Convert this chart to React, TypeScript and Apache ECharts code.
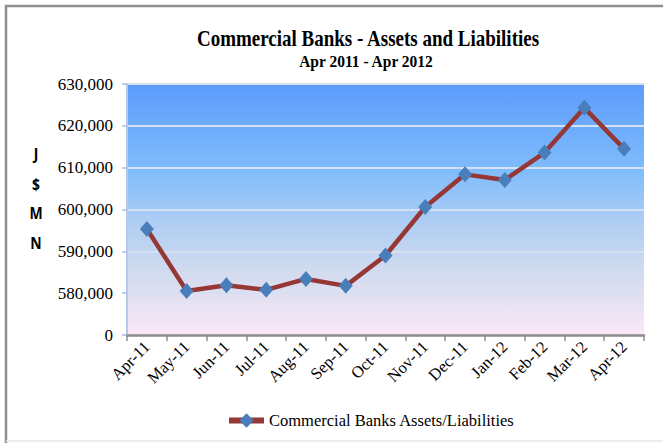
import React, { useEffect, useRef } from "react";
import * as echarts from "echarts";

const categories = ["Apr-11", "May-11", "Jun-11", "Jul-11", "Aug-11", "Sep-11", "Oct-11", "Nov-11", "Dec-11", "Jan-12", "Feb-12", "Mar-12", "Apr-12"];
const assetsLiabilities = [595350, 580500, 581900, 580800, 583400, 581750, 589000, 600600, 608400, 607050, 613600, 624300, 614500];
const yAxisLetters = ["J", "$", "M", "N"];
const seriesName = "Commercial Banks Assets/Liabilities";
const titleText = "Commercial Banks - Assets and Liabilities";
const subtitleText = "Apr 2011 - Apr 2012";

export default function App() {
  const ref = useRef<HTMLDivElement>(null);
  useEffect(() => {
    document.body.style.margin = "0";
    const chart = echarts.init(ref.current!, null, { renderer: "svg" });
    const serif = "Liberation Serif";
    chart.setOption({
      animation: false,
      backgroundColor: "#ffffff",
      grid: {
        left: 127,
        right: 19,
        top: 84,
        bottom: 108,
        show: true,
        borderWidth: 0,
        backgroundColor: new echarts.graphic.LinearGradient(0, 0, 0, 1, [
          { offset: 0, color: "#5c9bfb" },
          { offset: 0.35, color: "#80bdfc" },
          { offset: 0.55, color: "#aecdf3" },
          { offset: 0.75, color: "#d2dbef" },
          { offset: 1, color: "#fbe8f7" },
        ]),
      },
      xAxis: {
        type: "category",
        data: categories,
        boundaryGap: true,
        axisLine: { show: true, lineStyle: { color: "#8c8c8c", width: 2.5 } },
        axisTick: { show: true, interval: 0, length: 6, lineStyle: { color: "#8c8c8c", width: 1.5 } },
        axisLabel: { interval: 0, rotate: 45, fontFamily: serif, fontSize: 16.5, color: "#000", margin: 9 },
      },
      yAxis: {
        type: "value",
        min: 570000,
        max: 630000,
        interval: 10000,
        axisLine: { show: true, lineStyle: { color: "#b8c8e8", width: 2 } },
        axisTick: { show: true, length: 5, lineStyle: { color: "#a8bce4", width: 1.5 } },
        splitLine: { show: true, lineStyle: { color: "#d6e0f3", width: 2 } },
        axisLabel: {
          fontFamily: serif,
          fontSize: 17,
          color: "#000",
          margin: 14,
          formatter: (v: number) => (v === 570000 ? "0" : v.toLocaleString("en-US")),
        },
      },
      legend: {
        show: true,
        left: 221,
        top: 407,
        itemWidth: 35,
        itemHeight: 18,
        itemGap: 3,
        lineStyle: { width: 6, color: "#953735" },
        itemStyle: { color: "#4a7ebb" },
        textStyle: { fontFamily: serif, fontSize: 16.5, color: "#000" },
        data: [seriesName],
      },
      series: [
        {
          name: seriesName,
          type: "line",
          data: assetsLiabilities,
          symbol: "diamond",
          symbolSize: [14, 16],
          lineStyle: { color: "#953735", width: 4.5 },
          itemStyle: { color: "#4a7ebb" },
          z: 3,
        },
      ],
      graphic: [
        {
          type: "polyline",
          shape: { points: [[6, 443], [6, 6], [663, 6]] },
          style: { stroke: "#8f8f8f", lineWidth: 2.5, fill: "none" },
          silent: true,
        },
        {
          type: "line",
          shape: { x1: 6, y1: 441, x2: 663, y2: 441 },
          style: { stroke: "#e6e6e6", lineWidth: 1.5 },
          silent: true,
        },
        {
          type: "text",
          x: 368,
          y: 38,
          scaleY: 1.25,
          style: { text: titleText, fontFamily: serif, fontWeight: "bold", fontSize: 19, fill: "#000", textAlign: "center", textVerticalAlign: "middle" },
        },
        {
          type: "text",
          x: 366,
          y: 61,
          scaleY: 1.12,
          style: { text: subtitleText, fontFamily: serif, fontWeight: "bold", fontSize: 15.5, fill: "#000", textAlign: "center", textVerticalAlign: "middle" },
        },
        ...yAxisLetters.map((t, i) => ({
          type: "text",
          x: 36,
          y: 154 + i * 29.5,
          scaleY: 1.1,
          style: { text: t, fontFamily: "Open Sans", fontWeight: "bold", fontSize: 14, fill: "#000", textAlign: "center", textVerticalAlign: "middle" },
        })),
      ],
    });
    return () => chart.dispose();
  }, []);
  return <div ref={ref} style={{ width: 663, height: 443 }} />;
}
